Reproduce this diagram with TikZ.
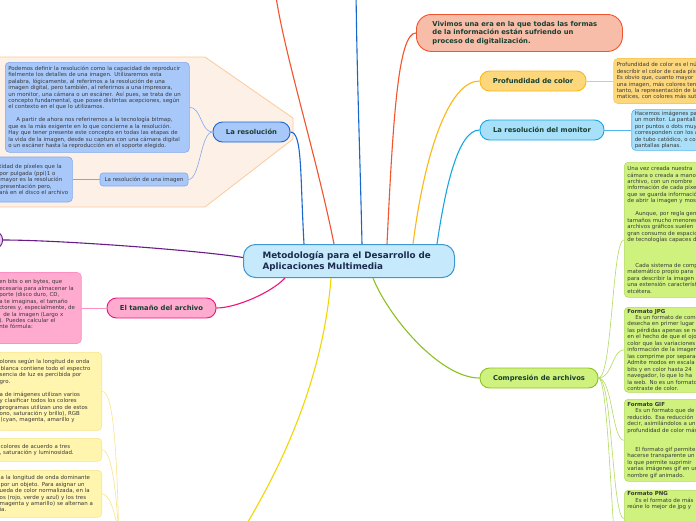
\documentclass[tikz,border=0pt]{standalone}
\usepackage{fontspec}
\setmainfont{DejaVu Sans}
\usepackage{tikz}
\usetikzlibrary{positioning}

\definecolor{azulCentro}{HTML}{C6EAFB}
\definecolor{azulBorde}{HTML}{3D97D3}
\definecolor{azulTexto}{HTML}{1B2B4D}
\definecolor{azulRes}{HTML}{A8C8FA}
\definecolor{azulFuerte}{HTML}{1767CF}
\definecolor{azulNota}{HTML}{7FA9EC}
\definecolor{melocoton}{HTML}{FDF0E7}
\definecolor{melocotonBorde}{HTML}{FCCB9B}
\definecolor{rojoNaranja}{HTML}{F2542D}
\definecolor{salmon}{HTML}{F8BDA9}
\definecolor{morado}{HTML}{6A1D86}
\definecolor{moradoClaro}{HTML}{E8D0F2}
\definecolor{rosa}{HTML}{EE1479}
\definecolor{rosaClaro}{HTML}{FFAACF}
\definecolor{rosaNota}{HTML}{FF8EC2}
\definecolor{amarillo}{HTML}{F2D600}
\definecolor{amarilloClaro}{HTML}{FFF5AE}
\definecolor{amarilloNota}{HTML}{F8E58A}
\definecolor{naranja}{HTML}{FDB714}
\definecolor{naranjaClaro}{HTML}{FDD77C}
\definecolor{naranjaNota}{HTML}{F9C85C}
\definecolor{celeste}{HTML}{18A6E3}
\definecolor{celesteClaro}{HTML}{A8DFF9}
\definecolor{celesteNota}{HTML}{52B5F0}
\definecolor{verde}{HTML}{8CC11F}
\definecolor{verdeClaro}{HTML}{CFF17E}
\definecolor{verdeNota}{HTML}{B2DC5E}
\definecolor{verdeTexto}{HTML}{183F30}
\definecolor{grisTexto}{HTML}{383838}

\begin{document}
\begin{tikzpicture}[
x=1pt, y=-1pt,
central/.style={
draw=azulBorde,
fill=azulCentro,
line width=1pt,
rounded corners=12pt,
anchor=north west,
minimum width=211pt,
minimum height=33pt,
text width=173pt,
inner xsep=19pt,
align=left,
text=azulTexto,
font=\fontsize{8.8}{11}\selectfont\bfseries
},
rama/.style={
draw,
line width=0.9pt,
rounded corners=9.5pt,
minimum height=20pt,
inner sep=0pt,
text=verdeTexto,
font=\fontsize{6.8}{8.5}\selectfont\bfseries
},
nota/.style={
draw,
line width=0.6pt,
rounded corners=4pt,
align=left,
inner xsep=3pt,
inner ysep=1.5pt,
text=grisTexto,
font=\fontsize{5.45}{6.45}\selectfont
},
enlace/.style={line width=1.1pt},
fino/.style={line width=0.6pt}
]

\useasboundingbox (0,0) rectangle (696,520);
\clip (0,0) rectangle (696,520);
\fill[white] (0,0) rectangle (696,520);

% zona de la resolucion
\draw[fill=melocoton, draw=melocotonBorde, line width=0.8pt]
(-5,57) -- (205,57) -- (293,118) -- (293,139) -- (205,207) -- (-5,207) -- cycle;

\node[central] (meto) at (243,244)
{Metodología para el Desarrollo de\\Aplicaciones Multimedia};

% rama azul
\node[rama, fill=azulRes, draw=azulFuerte, minimum width=77pt] (res) at (251.5,132)
{La resolución};

\node[nota, fill=azulRes, draw=azulNota, anchor=north west, text width=178pt,
minimum height=90pt] (resdef) at (5,62)
{Podemos definir la resolución como la capacidad de reproducir\\
fielmente los detalles de una imagen. Utilizaremos esta\\
palabra, lógicamente, al referirnos a la resolución de una\\
imagen digital, pero también, al referirnos a una impresora,\\
un monitor, una cámara o un escáner. Así pues, se trata de un\\
concepto fundamental, que posee distintas acepciones, según\\
el contexto en el que lo utilizamos.\\[6.45pt]
\hspace*{8pt}A partir de ahora nos referiremos a la tecnología bitmap,\\
que es la más exigente en lo que concierne a la resolución.\\
Hay que tener presente este concepto en todas las etapas de\\
la vida de la imagen, desde su captura con una cámara digital\\
o un escáner hasta la reproducción en el soporte elegido.};

\node[nota, fill=azulRes, draw=azulNota, rounded corners=3pt, align=center,
inner sep=0pt, minimum width=88pt, minimum height=13pt] (resimg) at (144,179.5)
{La resolución de una imagen};

\node[nota, fill=azulRes, draw=azulNota, left=27pt of resimg, text width=70pt,
minimum height=45pt] (resimgtxt)
{tidad de píxeles que la\\
por pulgada (ppi)1 o\\
\hspace*{1pt}mayor es la resolución\\
\hspace*{1pt}presentación pero,\\
ará en el disco el archivo};

% rama morada
\node[draw=morado, fill=moradoClaro, line width=0.9pt, rounded corners=8pt,
minimum width=40pt, minimum height=17pt, anchor=east] (mor) at (3,240) {};

% rama rosa
\node[rama, fill=rosaClaro, draw=rosa, minimum width=109pt] (tam) at (161.5,308)
{El tamaño del archivo};

\node[nota, fill=rosaClaro, draw=rosaNota, left=25pt of tam, text width=79pt,
minimum height=71pt] (tamtxt)
{en bits o en bytes, que\\
ecesaria para almacenar la\\
porte (disco duro, CD,\\
a te imaginas, el tamaño\\
ctores y, especialmente, de\\
\hspace*{4pt}de la imagen (Largo x\\
). Puedes calcular el\\
nte fórmula:\\[1pt]\mbox{}};

% notas amarillas
\node[nota, fill=amarilloClaro, draw=amarilloNota, anchor=north east, text width=99pt,
minimum height=78pt] (amar1) at (102,352)
{olores según la longitud de onda\\
\hspace*{1pt}blanca contiene todo el espectro\\
sencia de luz es percibida por\\
gro.\\[6.45pt]
a de imágenes utilizan varios\\
y clasificar todos los colores\\
programas utilizan uno de estos\\
ono, saturación y brillo), RGB\\
\hspace*{1pt}(cyan, magenta, amarillo y};

\node[nota, fill=amarilloClaro, draw=amarilloNota, anchor=north east, text width=99pt,
minimum height=23pt] (amar2) at (102,438)
{\hspace*{1pt}colores de acuerdo a tres\\
, saturación y luminosidad.};

\node[nota, fill=amarilloClaro, draw=amarilloNota, anchor=north east, text width=99pt,
minimum height=47pt] (amar3) at (102,470)
{\hspace*{1pt}a la longitud de onda dominante\\
\hspace*{1pt}por un objeto. Para asignar un\\
ueda de color normalizada, en la\\
os (rojo, verde y azul) y los tres\\
magenta y amarillo) se alternan a\\
ia.};

% rama salmon
\node[rama, fill=salmon, draw=rojoNaranja, anchor=north west, minimum width=206pt,
minimum height=37pt, rounded corners=15pt, text width=174pt, inner xsep=16pt,
align=left] (vivi) at (416,14)
{Vivimos una era en la que todas las formas\\
de la información están sufriendo un\\
proceso de digitalización.};

% rama naranja
\node[rama, fill=naranjaClaro, draw=naranja, minimum width=106pt] (prof) at (533,81)
{Profundidad de color};

\node[nota, fill=naranjaClaro, draw=naranjaNota, right=27pt of prof, text width=100pt,
minimum height=45pt] (proftxt)
{Profundidad de color es el número\\
describir el color de cada píxel\\
Es obvio que, cuanto mayor\\
una imagen, más colores tendrá\\
tanto, la representación de la\\
matices, con colores más sutiles};

% rama celeste
\node[rama, fill=celesteClaro, draw=celeste, minimum width=124pt] (mon) at (542,130)
{La resolución del monitor};

\node[nota, fill=celesteClaro, draw=celesteNota, right=27pt of mon, text width=100pt,
minimum height=39pt] (montxt)
{Hacemos imágenes para\\
un monitor. La pantalla\\
por puntos o dots muy\\
corresponden con los a\\
de tubo catódico, o con\\
pantallas planas.};

% rama verde
\node[rama, fill=verdeClaro, draw=verde, minimum width=118pt] (comp) at (539,378)
{Compresión de archivos};

\node[nota, fill=verdeClaro, draw=verdeNota, anchor=north west, text width=100pt,
minimum height=135pt] (cajaA) at (624,162)
{Una vez creada nuestra\\
cámara o creada a mano\\
archivo, con un nombre\\
información de cada píxel\\
que se guarda información\\
de abrir la imagen y mostrarla\\[6.45pt]
\hspace*{8pt}Aunque, por regla general\\
tamaños mucho menores\\
archivos gráficos suelen\\
gran consumo de espacio\\
de tecnologías capaces de\\[19.35pt]
\hspace*{8pt}Cada sistema de compresión\\
matemático propio para\\
para describir la imagen\\
una extensión característica\\
etcétera.};

\node[nota, fill=verdeClaro, draw=verdeNota, anchor=north west, text width=100pt,
minimum height=85pt] (cajaB) at (624,307)
{\textbf{Formato JPG}\\
\hspace*{8pt}Es un formato de compresión\\
desecha en primer lugar\\
las pérdidas apenas se notan\\
en el hecho de que el ojo\\
color que las variaciones\\
información de la imagen\\
las comprime por separado\\
Admite modos en escala\\
bits y en color hasta 24\\
navegador, lo que lo ha\\
la web. No es un formato\\
contraste de color.};

\node[nota, fill=verdeClaro, draw=verdeNota, anchor=north west, text width=100pt,
minimum height=82pt] (cajaC) at (624,399)
{\textbf{Formato GIF}\\
\hspace*{8pt}Es un formato que de\\
reducido. Esa reducción\\
decir, asimilándolos a un\\
profundidad de color más\\[12.9pt]
\hspace*{8pt}El formato gif permite\\
hacerse transparente un\\
lo que permite suprimir\\
varias imágenes gif en un\\
nombre gif animado.};

\node[nota, fill=verdeClaro, draw=verdeNota, anchor=north west, text width=100pt]
(cajaD) at (624,490)
{\textbf{Formato PNG}\\
\hspace*{8pt}Es el formato de más\\
reúne lo mejor de jpg y\\[30pt]\mbox{}};

% nodos fuera del cuadro
\coordinate (arribaA) at (275,-10);
\coordinate (arribaB) at (356,-10);
\coordinate (abajoC) at (240,535);
\coordinate (colorIzq) at (119,545);
\coordinate (compMas) at (624,600);

% conectores del centro
\draw[enlace, azulFuerte] ([xshift=-45pt]meto.north) .. controls +(-4,-70) and +(12,0) .. (res.east);
\draw[enlace, rojoNaranja] ([xshift=-15pt]meto.north) .. controls +(-18,-90) and +(8,60) .. (arribaA);
\draw[enlace, azulFuerte] ([xshift=13pt]meto.north) .. controls +(-2,-90) and +(1,90) .. (arribaB);
\draw[enlace, rojoNaranja] ([xshift=38pt]meto.north) .. controls +(6,-124) and +(-18,0) .. (vivi.west);
\draw[enlace, naranja] ([xshift=64pt]meto.north) .. controls +(12,-94) and +(-30,0) .. (prof.west);
\draw[enlace, celeste] ([xshift=88pt]meto.north) .. controls +(8,-54) and +(-22,0) .. (mon.west);
\draw[enlace, morado] ([yshift=3.5pt]meto.west) .. controls +(-43,-7) and +(57,0) .. (mor.east);
\draw[enlace, rosa] ([xshift=-64pt]meto.south) .. controls +(-14,15) and +(19,0) .. (tam.east);
\draw[enlace, amarillo] ([xshift=-18pt]meto.south) .. controls +(-8,103) and +(40,-65) .. (abajoC);
\draw[enlace, verde] ([xshift=24pt]meto.south) .. controls +(15,38) and +(-40,0) .. (comp.west);

% conectores finos
\draw[fino, azulNota] (resdef.east) .. controls +(12,0) and +(-12,0) .. (res.west);
\draw[fino, azulNota] (resimg.east) .. controls +(12,0) and +(-12,0) .. (res.west);
\draw[fino, azulNota] (resimgtxt.east) -- (resimg.west);
\draw[fino, rosaNota] (tamtxt.east) -- (tam.west);
\draw[fino, naranjaNota] (prof.east) -- (proftxt.west);
\draw[fino, celesteNota] (mon.east) -- (montxt.west);
\draw[fino, amarilloNota] (amar1.east) .. controls +(12,0) and +(-2,-90) .. (colorIzq);
\draw[fino, amarilloNota] (amar2.east) .. controls +(10,0) and +(-2,-50) .. (colorIzq);
\draw[fino, amarilloNota] (amar3.east) .. controls +(8,0) and +(-2,-30) .. (colorIzq);
\draw[fino, verdeNota] (comp.east) .. controls +(14,0) and +(-12,0) .. ([yshift=-10pt]cajaA.west);
\foreach \caja in {cajaB,cajaC,cajaD}
\draw[fino, verdeNota] (comp.east) .. controls +(14,0) and +(-12,0) .. (\caja.west);
\draw[fino, verdeNota] (comp.east) .. controls +(12,0) and +(-12,0) .. (compMas);

\end{tikzpicture}
\end{document}
